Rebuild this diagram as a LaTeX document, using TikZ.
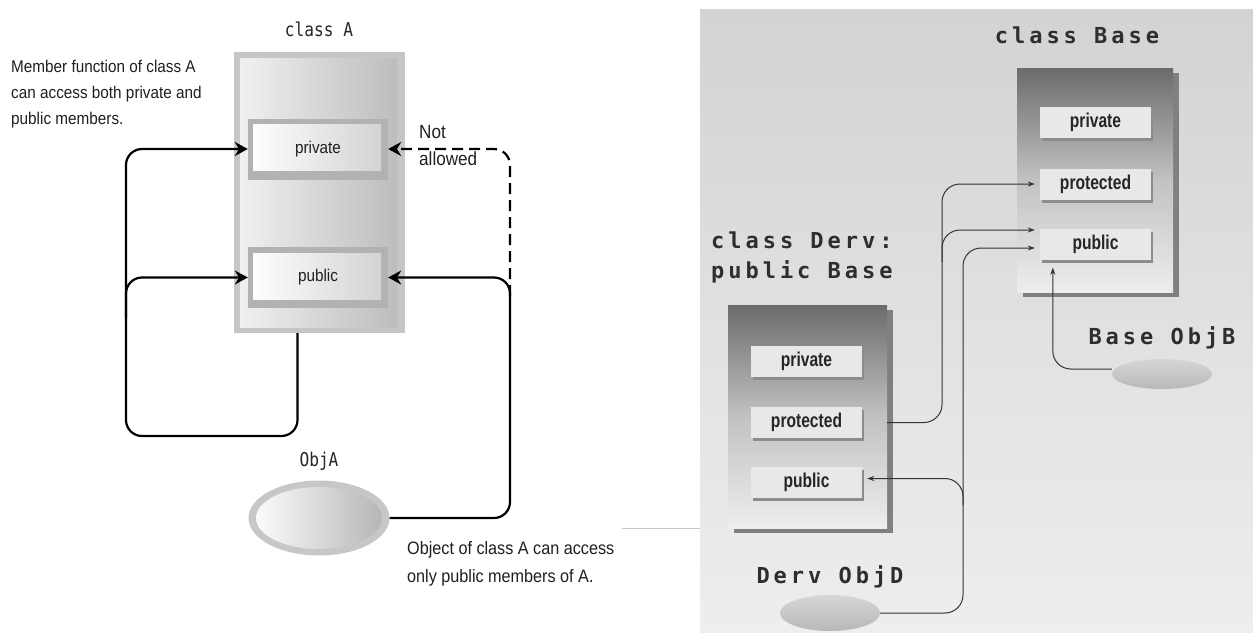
\documentclass[tikz,border=0pt]{standalone}
\usepackage{fontspec}
\setmainfont{Liberation Sans}
\newfontfamily\nsans{Liberation Sans}[FakeStretch=0.9]
\newfontfamily\cbold{Liberation Sans}[FakeStretch=0.78]
\newfontfamily\cmono{DejaVu Sans Mono}[FakeStretch=0.85]
\newfontfamily\smono{DejaVu Sans Mono}[LetterSpace=18]
\usetikzlibrary{arrows.meta,shapes.geometric,shadows}
\definecolor{frameA}{HTML}{C6C6C6}
\definecolor{bgtop}{HTML}{D3D3D3}
\definecolor{bgbot}{HTML}{EEEEEE}
\definecolor{lineR}{HTML}{333333}
\tikzset{
  bigarrow/.style={line width=2.2pt, -{Stealth[length=13pt,width=14pt]}, rounded corners=16pt},
  smallarrow/.style={line width=1pt, draw=lineR, -{Stealth[length=7pt,width=5pt]}, rounded corners=18pt},
  labelsans/.style={font=\nsans\fontsize{17}{26}\selectfont, align=left, inner sep=0, text=black!88},
  monoA/.style={font=\cmono\fontsize{19}{22}\selectfont, text=black!85},
  spmono/.style={font=\smono\bfseries\fontsize{22}{30}\selectfont, text=black!82, inner sep=0},
  membox/.style={fill=black!30, minimum width=140pt, minimum height=61pt, inner sep=0,
    font=\nsans\fontsize{17}{20}\selectfont, text=black!88,
    path picture={\shade[left color=white, right color=black!18]
      ([shift={(5,6)}]path picture bounding box.north west) rectangle
      ([shift={(-7,-9)}]path picture bounding box.south east);}},
  memR/.style={fill=black!9, minimum width=111pt, minimum height=31pt, inner sep=0,
    font=\cbold\bfseries\fontsize{20}{24}\selectfont, text=black!85,
    drop shadow={shadow xshift=2pt, shadow yshift=-3pt, fill=black!45, opacity=1}},
  classR/.style={inner sep=0, top color=black!58, bottom color=black!7, middle color=black!24,
    drop shadow={shadow xshift=6pt, shadow yshift=-5pt, fill=black!50, opacity=1}},
  objR/.style={ellipse, inner sep=0, top color=black!16, bottom color=black!28}
}
\begin{document}
\begin{tikzpicture}[x=1pt,y=-1pt]
\useasboundingbox (0,0) rectangle (1253,632);
% ---------------- left diagram ----------------
\node[monoA] (lblA) at (319,29) {class A};
\node[fill=frameA, minimum width=171pt, minimum height=281pt, inner sep=0,
  path picture={\shade[left color=black!5, right color=black!27]
    ([shift={(6,6)}]path picture bounding box.north west) rectangle
    ([shift={(-8,-6)}]path picture bounding box.south east);}] (boxA) at (319.5,192.5) {};
\node[membox] (privA) at (318,149) {private};
\node[membox] (pubA) at (318,277.5) {public};
\node[ellipse, fill=black!22, minimum width=141pt, minimum height=75pt, inner sep=0,
  path picture={\shade[left color=white, right color=black!30]
    (path picture bounding box.center) ellipse [x radius=63pt, y radius=31pt];}] (objA) at (319,518) {};
\node[monoA] (lblObjA) at (319,461) {ObjA};
\node[labelsans, anchor=west] (txtMember) at (11,94) {Member function of class A\\can access both private and\\public members.};
\node[labelsans, anchor=west, font=\nsans\fontsize{19}{27}\selectfont] (txtNot) at (419,146) {Not\\allowed};
\node[labelsans, anchor=west, font=\nsans\fontsize{18}{28}\selectfont] (txtObj) at (407,564) {Object of class A can access\\only public members of A.};
\coordinate (brL) at (126,318);
\coordinate (rA) at (510,400);
\coordinate (rD) at (510,296);
\draw[bigarrow] ([xshift=-22pt]boxA.south) |- (126,436) |- (privA.west);
\draw[bigarrow] (brL) |- (pubA.west);
\draw[bigarrow] (objA.east) -| (rA) |- (pubA.east);
\draw[bigarrow, dash pattern=on 11pt off 6pt] (rD) |- (privA.east);
% ---------------- right diagram ----------------
\shade[top color=bgtop, bottom color=bgbot] (700,9) rectangle (1253,632);
\draw[black!22, line width=1pt] (622,528) -- (700,528);
\node[classR, minimum width=156pt, minimum height=224pt] (baseBox) at (1095,180) {};
\node[memR] (bpriv) at (1095.5,122) {private};
\node[memR] (bprot) at (1095.5,184) {protected};
\node[memR] (bpub) at (1095.5,244) {public};
\node[classR, minimum width=159pt, minimum height=223pt] (dervBox) at (807.5,416.5) {};
\node[memR] (dpriv) at (806.5,361) {private};
\node[memR] (dprot) at (806.5,422.5) {protected};
\node[memR] (dpub) at (806.5,482.5) {public};
\node[spmono] (lblBase) at (1077,35) {class Base};
\node[spmono, anchor=west, align=left] (lblDerv) at (711,257) {class Derv:\\public Base};
\node[spmono] (lblObjB) at (1162,338) {Base ObjB};
\node[spmono] (lblObjD) at (830,577) {Derv ObjD};
\coordinate (tR1) at (942,300);
\coordinate (brR1) at (942,262);
\coordinate (tR2) at (963,400);
\coordinate (brR2) at (963,505);
\draw[smallarrow, shorten >=5pt] (dprot.east -| dervBox.east) -| (tR1) |- (bprot.west);
\draw[smallarrow, shorten >=5pt] (brR1) |- ([yshift=14pt]bpub.west);
\draw[smallarrow, shorten >=5pt] (brR2) |- ([yshift=4pt]dpub.east);
\node[objR, minimum width=100pt, minimum height=30pt] (objB) at (1162,374) {};
\node[objR, minimum width=100pt, minimum height=36pt] (objD) at (830,613) {};
\draw[smallarrow, shorten >=5pt] (objD.east) -| (tR2) |- ([yshift=-4pt]bpub.west);
\draw[smallarrow, shorten >=8pt] ([yshift=5pt]objB.west) -| ([xshift=13pt]bpub.south west);
\end{tikzpicture}
\end{document}
